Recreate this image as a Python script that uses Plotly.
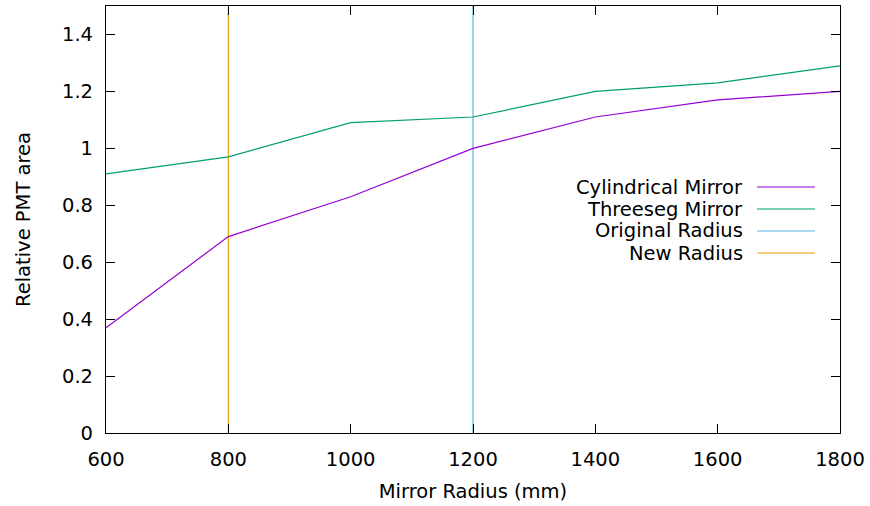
import plotly.graph_objects as go

radius = [600, 800, 1000, 1200, 1400, 1600, 1800]
cylindrical = [0.37, 0.69, 0.83, 1.00, 1.11, 1.17, 1.20]
threeseg = [0.91, 0.97, 1.09, 1.11, 1.20, 1.23, 1.29]
original_radius = 1200
new_radius = 800
y_range = [0, 1.5]

names = ["Cylindrical Mirror", "Threeseg Mirror", "Original Radius", "New Radius"]
colors = ["#9400d3", "#009e73", "#56b4e9", "#e69f00"]

W, H = 870, 506
L, R, T, B = 106, 30, 6, 73
pw, ph = W - L - R, H - T - B
FS = 19.5

def px(x):
    return (x - L) / pw

def py(y):
    return (H - B - y) / ph

fig = go.Figure()
fig.add_trace(go.Scatter(x=[new_radius, new_radius], y=y_range, mode="lines",
                         line=dict(color=colors[3], width=1.2), showlegend=False))
fig.add_trace(go.Scatter(x=[original_radius, original_radius], y=y_range, mode="lines",
                         line=dict(color=colors[2], width=1.2), showlegend=False))
fig.add_trace(go.Scatter(x=radius, y=threeseg, mode="lines",
                         line=dict(color=colors[1], width=1.2), showlegend=False))
fig.add_trace(go.Scatter(x=radius, y=cylindrical, mode="lines",
                         line=dict(color=colors[0], width=1.2), showlegend=False))

font = "DejaVu Sans"
annotations = []
shapes = []
for i, (n, c) in enumerate(zip(names, colors)):
    yy = 187 + 22 * i
    annotations.append(dict(x=px(745), y=py(yy), xref="paper", yref="paper", text=n,
                            showarrow=False, xanchor="right", yanchor="middle",
                            font=dict(family=font, size=FS, color="black")))
    shapes.append(dict(type="line", xref="paper", yref="paper", x0=px(757), x1=px(815),
                       y0=py(yy), y1=py(yy), line=dict(color=c, width=1.2)))

axis_common = dict(showline=True, mirror="allticks", linecolor="black", linewidth=1.2,
                   ticks="inside", ticklen=9, tickwidth=1, tickcolor="black",
                   showgrid=False, zeroline=False,
                   tickfont=dict(family=font, size=FS, color="black"))

fig.update_layout(
    width=W, height=H,
    margin=dict(l=L, r=R, t=T, b=B),
    paper_bgcolor="white", plot_bgcolor="white",
    font=dict(family=font, size=FS, color="black"),
    xaxis=dict(range=[600, 1800], tickvals=list(range(600, 1801, 200)),
               title=dict(text="Mirror Radius (mm)", font=dict(family=font, size=FS), standoff=14),
               ticklabelstandoff=8, **axis_common),
    yaxis=dict(range=y_range, tickvals=[0, 0.2, 0.4, 0.6, 0.8, 1.0, 1.2, 1.4],
               ticktext=["0", "0.2", "0.4", "0.6", "0.8", "1", "1.2", "1.4"],
               title=dict(text="Relative PMT area", font=dict(family=font, size=FS), standoff=26),
               ticklabelstandoff=8, **axis_common),
    annotations=annotations, shapes=shapes,
    showlegend=False,
)

fig.write_html("out.html")
